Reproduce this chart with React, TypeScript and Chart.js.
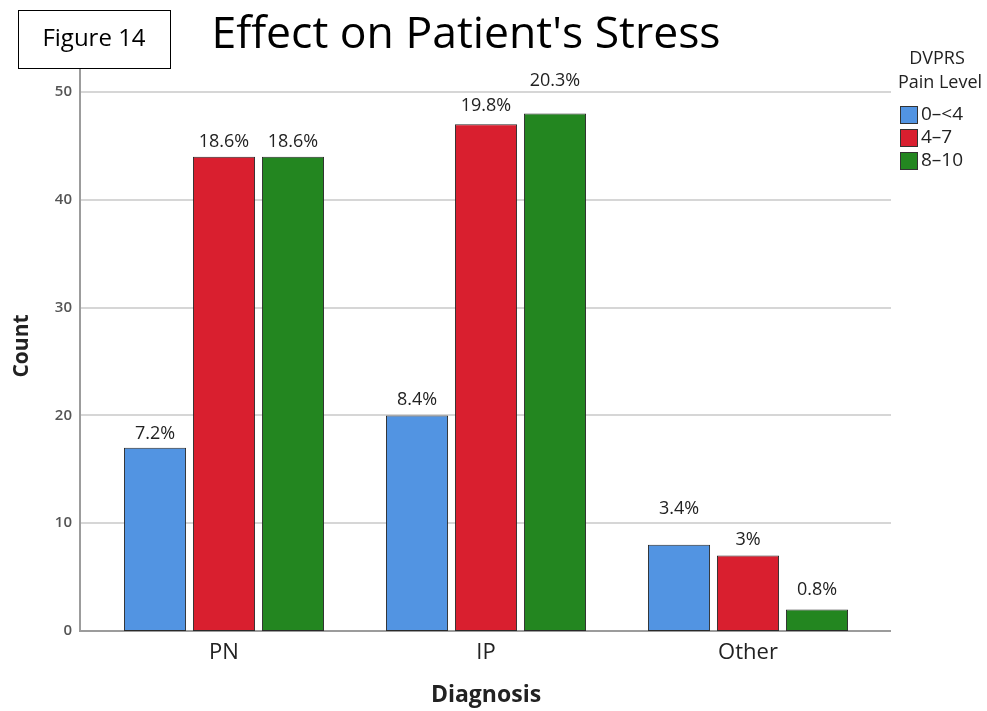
import React, { useEffect, useRef } from "react";
import { Chart, registerables } from "chart.js";

Chart.register(...registerables);

const categories = ["PN", "IP", "Other"];
const seriesNames = ["0\u2013<4", "4\u20137", "8\u201310"];
const lowCounts = [17, 20, 8];
const midCounts = [44, 47, 7];
const highCounts = [44, 48, 2];
const lowPct = ["7.2%", "8.4%", "3.4%"];
const midPct = ["18.6%", "19.8%", "3%"];
const highPct = ["18.6%", "20.3%", "0.8%"];
const yTicks = [0, 10, 20, 30, 40, 50];

const titleText = "Effect on Patient's Stress";
const figureText = "Figure 14";
const legendTitle = ["DVPRS", "Pain Level"];
const xTitle = "Diagnosis";
const yTitle = "Count";

// style only: vertical lift of each percentage label above its bar (px)
const lowLift = [14, 16, 36];
const midLift = [15, 18, 16];
const highLift = [15, 33, 20];

const colors = ["#5294e2", "#d91f2f", "#238620"];
const FONT = "'Open Sans', 'Noto Sans', sans-serif";

const decor = {
  id: "decor",
  beforeDatasetsDraw(chart: any) {
    const ctx = chart.ctx;
    const ys = chart.scales.y;
    const ca = chart.chartArea;
    const L = ca.left - 13;
    const R = ca.right + 12;
    ctx.save();
    ctx.strokeStyle = "#d6d6d6";
    ctx.lineWidth = 2;
    for (const t of yTicks) {
      if (t === 0) continue;
      const py = Math.round(ys.getPixelForValue(t));
      ctx.beginPath();
      ctx.moveTo(L, py);
      ctx.lineTo(R, py);
      ctx.stroke();
    }
    ctx.strokeStyle = "#9c9c9c";
    ctx.beginPath();
    ctx.moveTo(L, 66);
    ctx.lineTo(L, ca.bottom + 1);
    ctx.stroke();
    ctx.beginPath();
    ctx.moveTo(L, ca.bottom);
    ctx.lineTo(R, ca.bottom);
    ctx.stroke();
    ctx.restore();
  },
  afterDatasetsDraw(chart: any) {
    const ctx = chart.ctx;
    const pcts = [lowPct, midPct, highPct];
    const lifts = [lowLift, midLift, highLift];
    ctx.save();
    ctx.font = `18px ${FONT}`;
    ctx.fillStyle = "#222";
    ctx.textAlign = "center";
    ctx.textBaseline = "middle";
    chart.data.datasets.forEach((ds: any, di: number) => {
      const meta = chart.getDatasetMeta(di);
      meta.data.forEach((bar: any, i: number) => {
        ctx.fillText(pcts[di][i], bar.x, bar.y - lifts[di][i]);
      });
    });
    ctx.restore();
  },
  afterDraw(chart: any) {
    const ctx = chart.ctx;
    const ca = chart.chartArea;
    ctx.save();
    // main title
    ctx.fillStyle = "#000";
    ctx.font = `44.5px ${FONT}`;
    ctx.textAlign = "center";
    ctx.textBaseline = "middle";
    ctx.fillText(titleText, 466, 35);
    // figure box
    ctx.fillStyle = "#fff";
    ctx.fillRect(19, 11, 151, 57);
    ctx.strokeStyle = "#000";
    ctx.lineWidth = 1;
    ctx.strokeRect(18.5, 10.5, 152, 58);
    ctx.fillStyle = "#000";
    ctx.font = `24px ${FONT}`;
    ctx.fillText(figureText, 94, 39);
    // axis titles
    ctx.fillStyle = "#222";
    ctx.font = `bold 23px ${FONT}`;
    ctx.fillText(xTitle, (ca.left + ca.right) / 2, 695);
    ctx.save();
    ctx.translate(22, 346);
    ctx.rotate(-Math.PI / 2);
    ctx.font = `bold 21px ${FONT}`;
    ctx.fillText(yTitle, 0, 0);
    ctx.restore();
    // legend
    ctx.fillStyle = "#222";
    ctx.font = `18px ${FONT}`;
    ctx.fillText(legendTitle[0], 937, 59);
    ctx.fillText(legendTitle[1], 940, 83);
    ctx.textAlign = "left";
    ctx.font = `19px ${FONT}`;
    chart.data.datasets.forEach((ds: any, i: number) => {
      const top = 106 + i * 23;
      ctx.fillStyle = ds.backgroundColor;
      ctx.fillRect(900, top, 17, 17);
      ctx.strokeStyle = "#333";
      ctx.lineWidth = 1;
      ctx.strokeRect(900.5, top + 0.5, 17, 17);
      ctx.fillStyle = "#222";
      ctx.fillText(ds.label, 921, top + 9);
    });
    ctx.restore();
  },
};

export default function App() {
  const ref = useRef<HTMLCanvasElement | null>(null);
  useEffect(() => {
    document.body.style.margin = "0";
    const canvas = ref.current;
    if (!canvas) return;
    const counts = [lowCounts, midCounts, highCounts];
    const chart = new Chart(canvas, {
      type: "bar",
      data: {
        labels: categories,
        datasets: seriesNames.map((name, i) => ({
          label: name,
          data: counts[i],
          backgroundColor: colors[i],
          borderColor: "#2a2a2a",
          borderWidth: 1,
          borderSkipped: false,
          categoryPercentage: 0.79,
          barPercentage: 0.9,
        })),
      },
      options: {
        responsive: false,
        animation: false,
        devicePixelRatio: 1,
        layout: { padding: { top: 92, right: 108, bottom: 0, left: 0 } },
        plugins: {
          legend: { display: false },
          title: { display: false },
          tooltip: { enabled: false },
        },
        scales: {
          x: {
            grid: { display: false, drawTicks: false },
            border: { display: false },
            ticks: {
              padding: 9,
              color: "#222",
              font: { family: FONT, size: 22 },
            },
            afterFit: (s: any) => {
              s.height = 80;
            },
          },
          y: {
            min: 0,
            max: 50,
            grid: { display: false, drawTicks: false },
            border: { display: false },
            afterBuildTicks: (s: any) => {
              s.ticks = yTicks.map((v) => ({ value: v }));
            },
            ticks: {
              padding: 21,
              color: "#555",
              font: { family: FONT, size: 15, weight: "600" },
            },
            afterFit: (s: any) => {
              s.width = 93;
            },
          },
        },
      },
      plugins: [decor],
    } as any);
    return () => chart.destroy();
  }, []);
  return (
    <div style={{ width: 987, height: 711 }}>
      <canvas ref={ref} width={987} height={711} style={{ display: "block", width: 987, height: 711 }} />
    </div>
  );
}
